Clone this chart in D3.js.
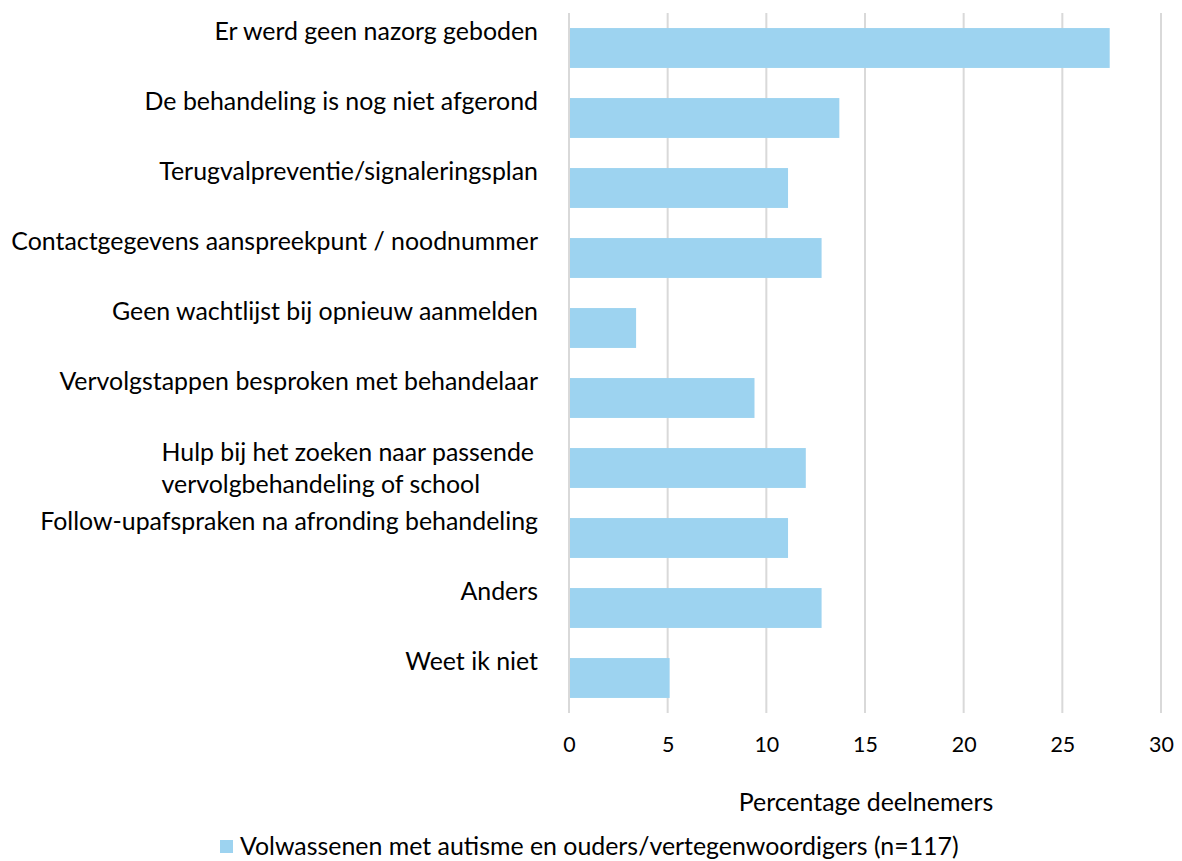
<!DOCTYPE html>
<html>
<head>
<meta charset="utf-8">
<script src="https://cdn.jsdelivr.net/npm/d3@7"></script>
<style>
  body { margin: 0; background: #fff; }
  text { font-family: Lato, "Open Sans", sans-serif; fill: #000; }
</style>
</head>
<body>
<script>
var width = 1182;
var height = 861;

// data
var categorieen = [
    ["Er werd geen nazorg geboden"],
    ["De behandeling is nog niet afgerond"],
    ["Terugvalpreventie/signaleringsplan"],
    ["Contactgegevens aanspreekpunt / noodnummer"],
    ["Geen wachtlijst bij opnieuw aanmelden"],
    ["Vervolgstappen besproken met behandelaar"],
    ["Hulp bij het zoeken naar passende", "vervolgbehandeling of school"],
    ["Follow-upafspraken na afronding behandeling"],
    ["Anders"],
    ["Weet ik niet"]
];
var waarden = [27.4, 13.7, 11.1, 12.8, 3.4, 9.4, 12.0, 11.1, 12.8, 5.1];
var ticks = [0, 5, 10, 15, 20, 25, 30];
var reeksNaam = "Volwassenen met autisme en ouders/vertegenwoordigers (n=117)";
var asTitel = "Percentage deelnemers";

var kleur = "#9dd3f0";
var gridKleur = "#d9d9d9";

var links = 569, rechts = 1161, boven = 13, onder = 713;

var svg = d3.select("body")
    .append("svg")
    .attr("width", width)
    .attr("height", height);

// lettergrootte zo kiezen dat de tekst even breed is als in het origineel
function pasBreedte(tekst, doel) {
    var t = svg.append("text").style("font-size", "20px").text(tekst);
    var b = t.node().getComputedTextLength();
    t.remove();
    return 20 * doel / b;
}
var labelGrootte = pasBreedte("Contactgegevens aanspreekpunt / noodnummer", 527);
var tickGrootte = labelGrootte * 0.86;

var x = d3.scaleLinear().domain([0, 30]).range([links, rechts]);
var y = d3.scaleBand()
    .domain(d3.range(categorieen.length))
    .range([boven, onder])
    .paddingInner(0.43)
    .paddingOuter(0.215);

// rasterlijnen
svg.append("g")
    .selectAll("line")
    .data(ticks)
    .enter()
    .append("line")
    .attr("x1", function(d){ return x(d); })
    .attr("x2", function(d){ return x(d); })
    .attr("y1", boven)
    .attr("y2", onder)
    .attr("stroke", gridKleur)
    .attr("stroke-width", 2);

// balken
svg.append("g")
    .selectAll("rect")
    .data(waarden)
    .enter()
    .append("rect")
    .attr("x", x(0) + 1)
    .attr("y", function(d, i){ return y(i); })
    .attr("width", function(d){ return x(d) - x(0) - 1; })
    .attr("height", y.bandwidth())
    .attr("fill", kleur);

// x-as labels
var xAs = d3.axisBottom(x).tickValues(ticks).tickSize(0).tickPadding(0);
var ga = svg.append("g")
    .attr("transform", "translate(0," + 752 + ")")
    .call(xAs);
ga.select(".domain").remove();
ga.selectAll("text")
    .attr("dy", 0)
    .style("font-size", tickGrootte + "px")
    .style("font-family", "Lato, 'Open Sans', sans-serif")
    .attr("fill", "#000");

// categorie labels
var labels = svg.append("g");
categorieen.forEach(function(regels, i){
    var midden = y(i) + y.bandwidth() / 2;
    if (regels.length == 1) {
        labels.append("text")
            .attr("text-anchor", "end")
            .attr("x", 538)
            .attr("y", midden - 17)
            .attr("dy", "0.35em")
            .style("font-size", labelGrootte + "px")
            .text(regels[0]);
    } else {
        var t = labels.append("text")
            .attr("x", 538)
            .attr("y", midden - 16)
            .attr("dy", "0.35em")
            .style("font-size", labelGrootte + "px")
            .text(regels[0]);
        var start = 538 - t.node().getComputedTextLength() - 4;
        t.attr("x", start);
        labels.append("text")
            .attr("x", start)
            .attr("y", midden + 16)
            .attr("dy", "0.35em")
            .style("font-size", labelGrootte + "px")
            .text(regels[1]);
    }
});

// as titel
svg.append("text")
    .attr("x", 866)
    .attr("y", 811)
    .attr("text-anchor", "middle")
    .style("font-size", labelGrootte + "px")
    .text(asTitel);

// legenda
svg.append("rect")
    .attr("x", 220)
    .attr("y", 840)
    .attr("width", 13)
    .attr("height", 13)
    .attr("fill", kleur);
svg.append("text")
    .attr("x", 240)
    .attr("y", 855)
    .style("font-size", labelGrootte + "px")
    .text(reeksNaam);
</script>
</body>
</html>
